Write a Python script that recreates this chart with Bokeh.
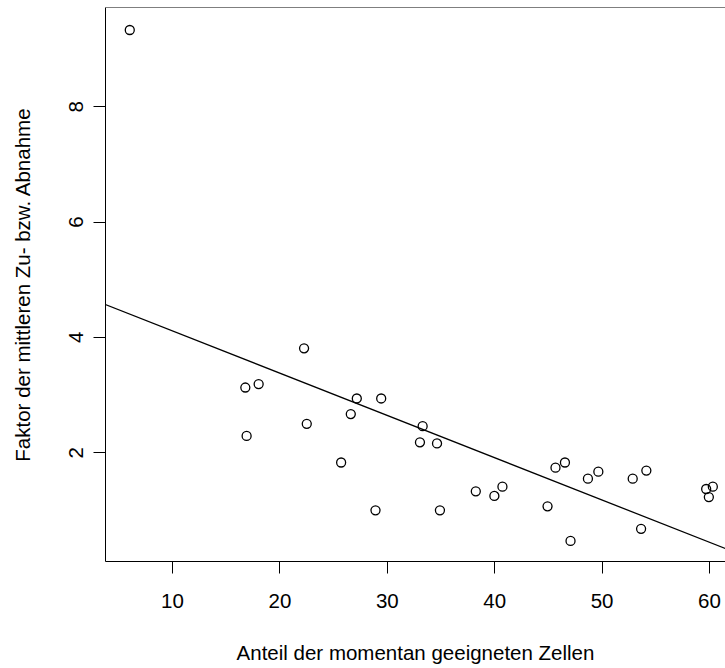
from bokeh.plotting import figure
from bokeh.models import Range1d, FixedTicker, Slope, Span
from bokeh.embed import file_html
from bokeh.resources import INLINE

# data
anteil = [6.02, 16.78, 16.9, 18.02, 22.25, 22.5, 25.7, 26.6, 27.16, 28.9,
          29.43, 33.04, 33.29, 34.63, 34.9, 38.24, 39.97, 40.72, 44.92, 45.66,
          46.54, 47.06, 48.68, 49.65, 52.85, 53.63, 54.12, 59.69, 59.94, 60.31]
faktor = [9.33, 3.13, 2.29, 3.19, 3.81, 2.50, 1.83, 2.67, 2.94, 1.00,
          2.94, 2.18, 2.46, 2.16, 1.00, 1.33, 1.25, 1.41, 1.07, 1.74,
          1.83, 0.47, 1.55, 1.67, 1.55, 0.68, 1.69, 1.37, 1.23, 1.41]
fit_intercept = 4.844
fit_slope = -0.0733
x_ticks = [10, 20, 30, 40, 50, 60]
y_ticks = [2, 4, 6, 8]
x_title = "Anteil der momentan geeigneten Zellen"
y_title = "Faktor der mittleren Zu- bzw. Abnahme"

FONT = "Liberation Sans"

p = figure(width=725, height=668, output_backend="svg", toolbar_location=None,
           x_range=Range1d(3.76, 61.49), y_range=Range1d(0.113, 9.72),
           min_border_left=105, min_border_right=0, min_border_top=7,
           min_border_bottom=107)
p.outline_line_color = None
p.xgrid.visible = False
p.ygrid.visible = False
p.background_fill_color = "white"
p.border_fill_color = "white"

for ax, ticks in ((p.xaxis[0], x_ticks), (p.yaxis[0], y_ticks)):
    ax.ticker = FixedTicker(ticks=ticks)
    ax.minor_tick_line_color = None
    ax.major_tick_in = 0
    ax.major_tick_out = 12
    ax.major_tick_line_color = "black"
    ax.axis_line_color = "black"
    ax.major_label_text_font = FONT
    ax.major_label_text_font_size = "20.5px"
    ax.major_label_text_color = "black"
    ax.axis_label_text_font = FONT
    ax.axis_label_text_font_size = "20.5px"
    ax.axis_label_text_font_style = "normal"
    ax.axis_label_text_color = "black"

p.xaxis[0].axis_label = x_title
p.xaxis[0].major_label_standoff = 20
p.xaxis[0].axis_label_standoff = 30
p.yaxis[0].axis_label = y_title
p.yaxis[0].major_label_orientation = "vertical"
p.yaxis[0].major_label_standoff = 10
p.yaxis[0].axis_label_standoff = 33

# top border of the box
p.add_layout(Span(location=9.72, dimension="width", line_color="black", line_width=1))

p.scatter(anteil, faktor, marker="circle", size=9, fill_color=None,
          line_color="black", line_width=1.3)

p.add_layout(Slope(gradient=fit_slope, y_intercept=fit_intercept,
                   line_color="black", line_width=1.3))

open("out.html", "w").write(file_html(p, INLINE))
